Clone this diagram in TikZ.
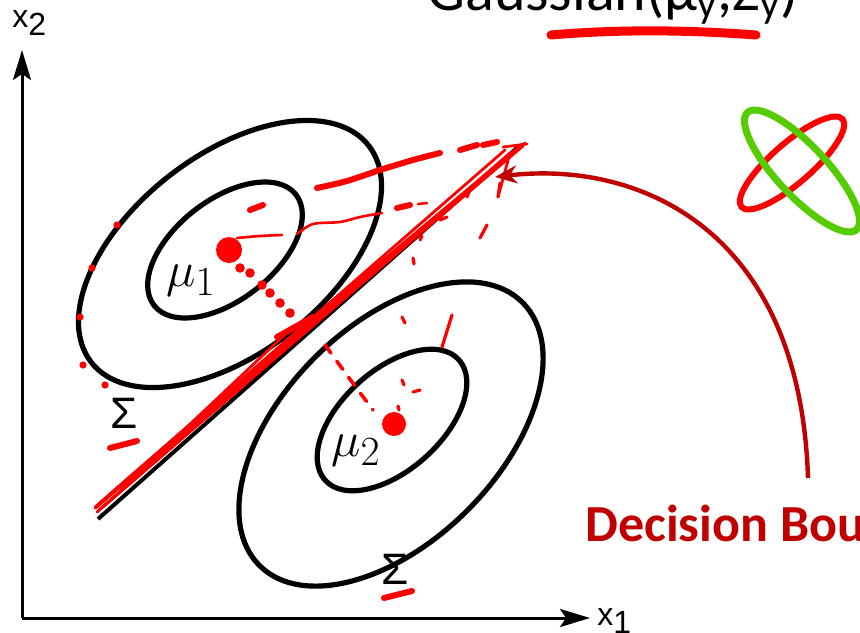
\documentclass[tikz,border=0pt]{standalone}
\usepackage{fontspec}
\usetikzlibrary{arrows.meta}
\newfontfamily\slidefont{Carlito}
\newfontfamily\plotfont{Liberation Sans}
\definecolor{inkRed}{HTML}{FF0000}
\definecolor{inkGreen}{HTML}{55CC00}
\definecolor{dkRed}{HTML}{C00000}

\begin{document}
\begin{tikzpicture}[
  x=0.5pt, y=-0.5pt,
  contour/.style={black, line width=2.6pt},
  axisline/.style={black, line width=1.5pt, -{Stealth[length=15pt, width=9pt, inset=3pt]}},
  axislab/.style={font=\plotfont\fontsize{16}{18}\selectfont, inner sep=0pt, anchor=base west},
  meanlab/.style={font=\fontsize{31}{33}\selectfont, inner sep=0pt, anchor=base west},
  sigmalab/.style={font=\plotfont\fontsize{22}{24}\selectfont, inner sep=0pt},
  inkthick/.style={inkRed, line width=3pt, line cap=round, line join=round},
  inkthin/.style={inkRed, line width=1.3pt, line cap=round, line join=round},
  strand/.style={inkRed, line width=1.4pt, line cap=round},
  pointer/.style={dkRed, line width=2.2pt, -{Stealth[length=11pt, width=9pt]}},
]
  % Frame
  \useasboundingbox (0,0) rectangle (860,632);
  \clip (0,0) rectangle (860,632);
  \fill[white] (0,0) rectangle (860,632);

  % Title (cut off at the top)
  \node[font=\slidefont\fontsize{30}{32}\selectfont, inner sep=0pt, anchor=base west]
    (title) at (427,10) {Gaussian(μ\textsubscript{y},Σ\textsubscript{y})};
  \draw[inkRed, line width=4.5pt, line cap=round]
    (551,35) .. controls (620,29) and (690,30) .. (756,35);

  % Axes
  \coordinate (origin) at (22,618);
  \coordinate (xtip) at (590,618);
  \coordinate (ytip) at (22,50);
  \draw[axisline] (origin) -- (xtip);
  \draw[axisline] (origin) -- (ytip);
  \node[axislab] (xlab) at (597,625) {x\raisebox{-4pt}{1}};
  \node[axislab] (ylab) at (12,27) {x\raisebox{-4pt}{2}};

  % Class contours
  \draw[contour] (230,254) ellipse [x radius=176, y radius=99, rotate=38];
  \draw[contour] (225,250) ellipse [x radius=90, y radius=50, rotate=38];
  \draw[contour] (391,434) ellipse [x radius=186, y radius=108, rotate=45];
  \draw[contour] (392,420) ellipse [x radius=90, y radius=50, rotate=42];
  \node[sigmalab] (sig1) at (124,413) {Σ};
  \node[sigmalab] (sig2) at (395,569) {Σ};
  \draw[inkthick] (110,448) -- (137,441);
  \draw[inkthick] (384,598) -- (392,596) -- (412,591);

  % Boundary line
  \coordinate (bl) at (98,519);
  \coordinate (tr) at (518,147);
  \draw[black, line width=2pt] (bl) -- (tr);
  \foreach \a/\b/\c/\d in {95/508/520/147, 100/503/515/150, 104/506/510/153,
                            97/512/525/143, 110/494/505/150, 120/488/523/146,
                            99/510/300/333, 150/462/295/325}
    \draw[strand] (\a,\b) -- (\c,\d);
  \draw[inkRed, line width=2pt, line cap=round] (96,507) -- (300,330) -- (522,145);
  \draw[inkthick] (277,337) -- (313,317);
  \draw[strand] (503,147) -- (527,144);
  \draw[strand] (510,153) -- (498,197);

  % Means
  \fill[inkRed] (229,250) circle [radius=6.5pt];
  \fill[inkRed] (394,424) circle [radius=6pt];
  \node[meanlab] (mu1) at (166,286) {$\mu_1$};
  \node[meanlab] (mu2) at (331,456) {$\mu_2$};

  % Dots between the means
  \foreach \px/\py in {240/268, 250/273, 262/285, 270/293, 280/303, 290/313}
    \fill[inkRed] (\px,\py) circle [radius=2.4pt];
  \draw[inkthin, line width=1.8pt, dash pattern=on 5pt off 5pt] (325,345) -- (352,382) -- (373,410);

  % Dots on the outer contour
  \foreach \px/\py in {117/225, 92/268, 80/317, 83/365, 105/385}
    \fill[inkRed] (\px,\py) circle [radius=1.8pt];

  % Scribbles
  \draw[inkthick] plot[smooth] coordinates {(317,188) (347,181) (380,170) (413,160) (440,153)};
  \draw[inkthick] (460,150) -- (477,145);
  \draw[inkthick] (483,145) -- (497,142);
  \draw[inkthin] plot[smooth] coordinates {(297,234) (313,224) (340,222) (360,217) (382,213)};
  \draw[inkthin] plot[smooth] coordinates {(237,238) (260,236) (282,235)};
  \draw[inkthick] (250,210) -- (263,205);
  \draw[inkthick] (397,208) -- (410,205);
  \draw[inkthin] (418,204) -- (427,203);
  \foreach \a/\b/\c/\d in {413/258/414/264, 420/240/422/236, 440/220/447/217,
                            480/238/487/225, 498/197/500/183, 467/197/469/192,
                            402/317/405/323, 442/347/452/315, 402/380/404/385,
                            413/392/420/390, 398/406/399/410}
    \draw[inkthin, line width=1.6pt] (\a,\b) -- (\c,\d);

  % Pointer to the boundary
  \node[font=\slidefont\bfseries\fontsize{26}{28}\selectfont, text=dkRed,
        inner sep=0pt, anchor=base west] (dbtext) at (585,541) {Decision Boundary};
  \coordinate (astart) at (808,478);
  \coordinate (atip) at (495,177);
  \draw[pointer] (astart) .. controls (800,230) and (640,160) .. (atip);

  % Crossed ellipses
  \draw[inkRed, line width=3pt] (792,163) ellipse [x radius=67, y radius=20, rotate=41];
  \draw[inkGreen, line width=3.5pt] (802,171) ellipse [x radius=80, y radius=25, rotate=-47];
\end{tikzpicture}
\end{document}
